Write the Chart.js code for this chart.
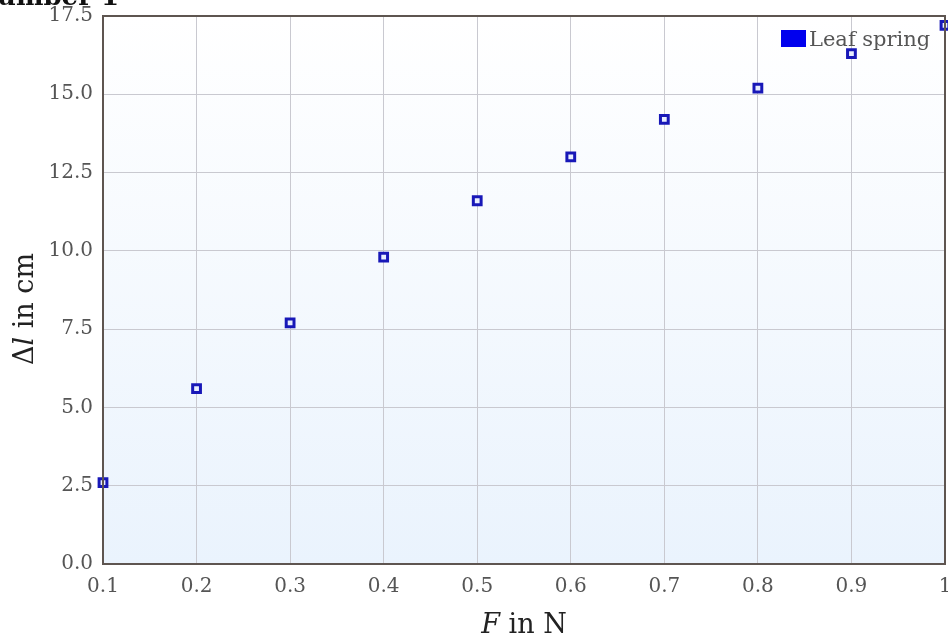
<!DOCTYPE html>
<html>
<head>
<meta charset="utf-8">
<script src="https://cdn.jsdelivr.net/npm/chart.js@4"></script>
<style>
  html, body { margin: 0; padding: 0; background: #fff; }
  #wrap { width: 948px; height: 639px; position: relative; }
</style>
</head>
<body>
<div id="wrap"><canvas id="myChart"></canvas></div>
<script>
// data
var forces = [0.1, 0.2, 0.3, 0.4, 0.5, 0.6, 0.7, 0.8, 0.9, 1.0];
var extension = [2.6, 5.6, 7.7, 9.8, 11.6, 13.0, 14.2, 15.2, 16.3, 17.2];
var seriesName = 'Leaf spring';
var chartTitle = 'Number 1';

var serif = '"DejaVu Serif", serif';

var points = forces.map(function(f, i) { return { x: f, y: extension[i] }; });

// gradient background, frame, title, legend and axis titles
var decor = {
    id: 'decor',
    beforeDraw: function(chart) {
        var a = chart.chartArea, c = chart.ctx;
        var g = c.createLinearGradient(0, a.top, 0, a.bottom);
        g.addColorStop(0, '#ffffff');
        g.addColorStop(1, '#eaf3fd');
        c.save();
        c.fillStyle = g;
        c.fillRect(a.left, a.top, a.right - a.left, a.bottom - a.top);
        c.restore();
    },
    afterDraw: function(chart) {
        var a = chart.chartArea, c = chart.ctx;
        c.save();
        // frame
        c.strokeStyle = '#5e5550';
        c.lineWidth = 2;
        c.strokeRect(a.left, a.top, a.right - a.left, a.bottom - a.top);

        // title, cut off at the top left
        c.font = 'bold 26px ' + serif;
        c.fillStyle = '#111';
        c.textBaseline = 'alphabetic';
        var w = c.measureText(chartTitle).width;
        c.fillText(chartTitle, 119 - w, 5);

        // legend
        c.fillStyle = '#0000ee';
        c.fillRect(781, 30, 25, 17);
        c.font = '21px ' + serif;
        c.fillStyle = '#555';
        c.fillText(seriesName, 809, 46);

        // x axis title: F in N
        c.fillStyle = '#222';
        var big = '27px ' + serif;
        c.font = 'italic ' + big;
        var p1 = 'F', p2 = ' in N';
        var w1 = c.measureText(p1).width;
        c.font = big;
        var w2 = c.measureText(p2).width;
        var x0 = (a.left + a.right) / 2 - (w1 + w2) / 2;
        c.font = 'italic ' + big;
        c.fillText(p1, x0, 633);
        c.font = big;
        c.fillText(p2, x0 + w1, 633);

        // y axis title: Δl in cm
        c.translate(33, 309);
        c.rotate(-Math.PI / 2);
        var q1 = 'Δ', q2 = 'l', q3 = ' in cm';
        c.font = big;
        var v1 = c.measureText(q1).width, v3 = c.measureText(q3).width;
        c.font = 'italic ' + big;
        var v2 = c.measureText(q2).width;
        var s = -(v1 + v2 + v3) / 2;
        c.font = big;
        c.fillText(q1, s, 0);
        c.font = 'italic ' + big;
        c.fillText(q2, s + v1, 0);
        c.font = big;
        c.fillText(q3, s + v1 + v2, 0);
        c.restore();
    }
};

var ctx = document.getElementById('myChart').getContext('2d');
var myChart = new Chart(ctx, {
    type: 'scatter',
    data: {
        datasets: [{
            label: seriesName,
            data: points,
            pointStyle: 'rect',
            pointRadius: 5.5,
            pointHoverRadius: 5.5,
            borderWidth: 3,
            borderColor: '#1818b8',
            backgroundColor: '#e8eeff',
            clip: false
        }]
    },
    options: {
        responsive: true,
        maintainAspectRatio: false,
        animation: false,
        layout: { autoPadding: false, padding: { top: 16, right: 3, left: 0, bottom: 0 } },
        plugins: {
            legend: { display: false },
            tooltip: { enabled: false }
        },
        scales: {
            x: {
                type: 'linear',
                min: 0.1,
                max: 1,
                afterFit: function(s) { s.height = 75; s.paddingRight = 0; s.paddingLeft = 0; },
                ticks: {
                    stepSize: 0.1,
                    color: '#555',
                    font: { family: serif, size: 20 },
                    padding: 11,
                    maxRotation: 0,
                    callback: function(v) { return String(+v.toFixed(1)); }
                },
                grid: { color: '#c9c9d0', drawTicks: false },
                border: { display: false }
            },
            y: {
                min: 0,
                max: 17.5,
                afterFit: function(s) { s.width = 103; s.paddingTop = 0; s.paddingBottom = 0; },
                ticks: {
                    stepSize: 2.5,
                    color: '#555',
                    font: { family: serif, size: 20 },
                    padding: 10,
                    callback: function(v) { return v.toFixed(1); }
                },
                grid: { color: '#c9c9d0', drawTicks: false },
                border: { display: false }
            }
        }
    },
    plugins: [decor]
});
</script>
</body>
</html>
